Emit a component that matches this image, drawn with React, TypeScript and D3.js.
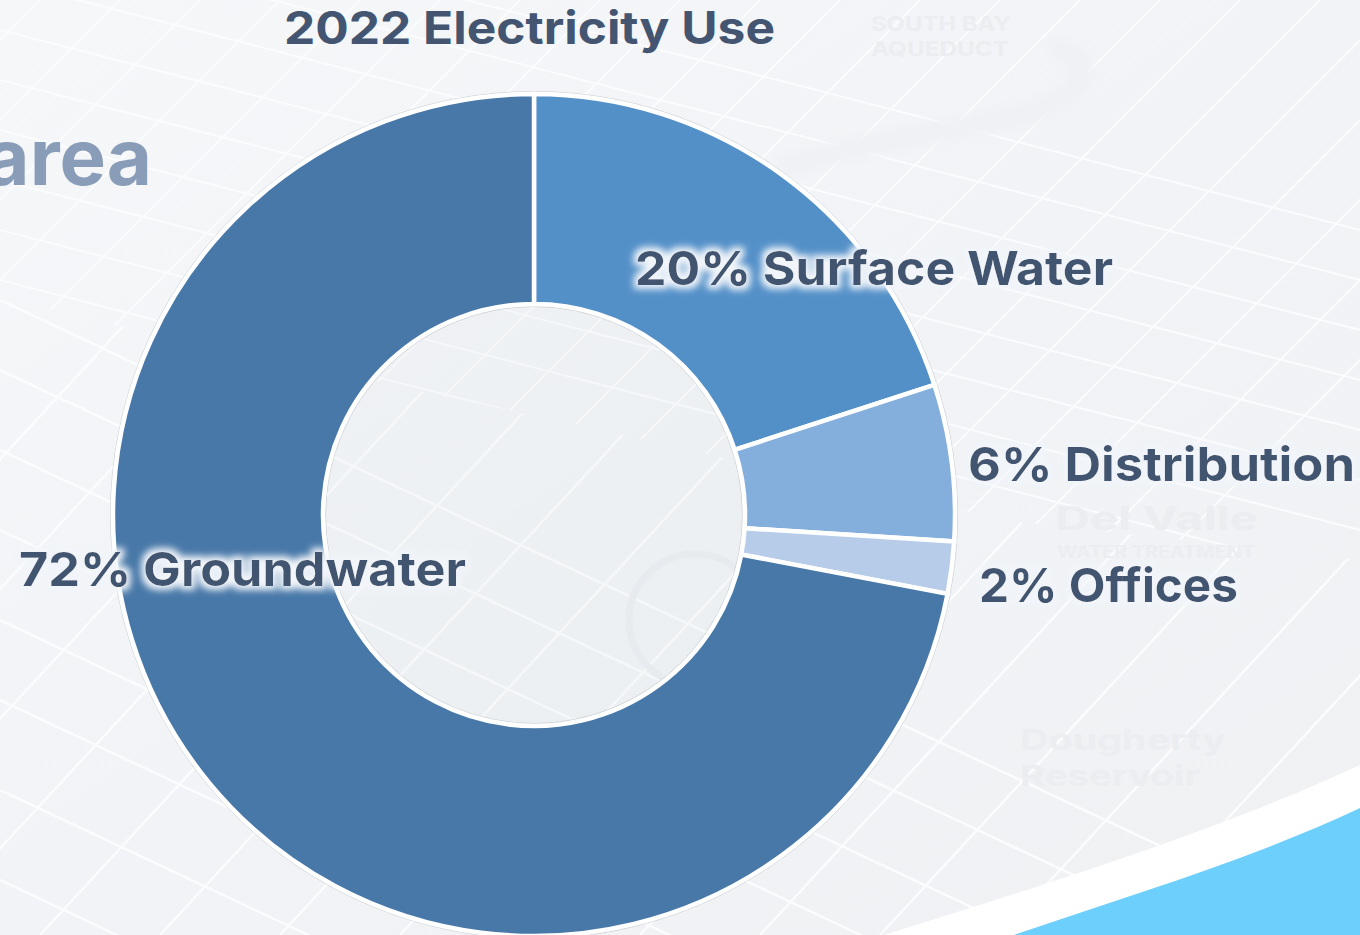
import React from "react";
import * as d3 from "d3";

const categories = ["Surface Water", "Distribution", "Offices", "Groundwater"];
const values = [20, 6, 2, 72];
const colors = ["#5490c8", "#84aedc", "#b6cce8", "#4878a8"];
const title = "2022 Electricity Use";
const labelPlaces = [
  { x: 635, y: 285, w: 478 },
  { x: 968, y: 481, w: 387 },
  { x: 979, y: 602, w: 259 },
  { x: 19, y: 586, w: 447 },
];

// faint background map: perspective street grid
const upperLong = [-120, -70, -20, 30, 80, 130, 180, 230, 280, 330, 380, 430, 480];
const upperCross = [-200, -120, -40, 40, 120, 200, 280, 360, 440, 520, 600, 680, 760, 840, 920, 1000, 1080, 1160, 1240, 1320, 1400, 1480, 1560, 1640, 1720];
const lowerLong = [300, 370, 450, 530, 620, 700, 790, 880];
const lowerCross = [300, 420, 540, 660, 780, 900, 1020, 1140, 1260, 1380, 1500, 1620, 1740, 1860];

const FONT = "Inter, 'Noto Sans', sans-serif";
const cx = 534, cy = 515, outerR = 421, innerR = 211;

const pie = d3.pie<number>().sort(null).value((d) => d);
const arc = d3.arc<d3.PieArcDatum<number>>().innerRadius(innerR).outerRadius(outerR);

export default function App() {
  const arcs = pie(values);
  return (
    <svg width={1360} height={935} style={{ position: "fixed", left: 0, top: 0, display: "block" }}>
      <defs>
        <linearGradient id="bg" x1="0" y1="0" x2="1" y2="1">
          <stop offset="0" stopColor="#f6f7f9" />
          <stop offset="0.5" stopColor="#f1f3f6" />
          <stop offset="1" stopColor="#eff1f3" />
        </linearGradient>
        <filter id="halo" x="-10%" y="-40%" width="120%" height="180%">
          <feMorphology in="SourceAlpha" operator="dilate" radius="4" result="d" />
          <feGaussianBlur in="d" stdDeviation="3.5" result="b" />
          <feFlood floodColor="#f1f5fa" floodOpacity="1" />
          <feComposite in2="b" operator="in" result="h" />
          <feMerge>
            <feMergeNode in="h" />
            <feMergeNode in="SourceGraphic" />
          </feMerge>
        </filter>
        <filter id="soft"><feGaussianBlur stdDeviation="0.7" /></filter>
        <filter id="softer"><feGaussianBlur stdDeviation="5" /></filter>
        <clipPath id="upperClip"><path d="M0,0H1360V560L1000,520L600,430L0,300Z" /></clipPath>
        <clipPath id="lowerClip"><path d="M0,300L600,430L1000,520L1360,560V935H0Z" /></clipPath>
      </defs>
      <rect width={1360} height={935} fill="url(#bg)" />

      <g stroke="#fbfcfd" strokeWidth={2} fill="none" clipPath="url(#upperClip)" filter="url(#soft)">
        {upperLong.map((y) => <line key={y} x1={0} y1={y} x2={1360} y2={y + 350} />)}
        {upperCross.map((x) => <line key={x} x1={x - 640} y1={640} x2={x} y2={0} />)}
      </g>
      <g stroke="#fbfcfd" strokeWidth={2.5} fill="none" clipPath="url(#lowerClip)" filter="url(#soft)">
        {lowerLong.map((y) => <line key={y} x1={0} y1={y} x2={1360} y2={y + 640} />)}
        {lowerCross.map((x) => <line key={x} x1={x - 740} y1={935} x2={x} y2={135} />)}
      </g>

      <g filter="url(#softer)">
        <path d="M780,170C900,125 1060,130 1080,80C1085,60 1070,50 1050,48" fill="none" stroke="#eff1f4" strokeWidth={22} />
      </g>
      <circle cx={695} cy={620} r={66} fill="none" stroke="#e9ecf0" strokeWidth={7} />
      <circle cx={534} cy={515} r={209} fill="#dfe5ea" opacity={0.18} />
      <g fill="#ebedf1" fontFamily={FONT} fontWeight={700}>
        <text x={871} y={31} fontSize={20} textLength={140} lengthAdjust="spacingAndGlyphs">SOUTH BAY</text>
        <text x={871} y={56} fontSize={20} textLength={138} lengthAdjust="spacingAndGlyphs">AQUEDUCT</text>
        <text x={1055} y={530} fontSize={32} textLength={203} lengthAdjust="spacingAndGlyphs">Del Valle</text>
        <text x={1057} y={558} fontSize={17} textLength={198} lengthAdjust="spacingAndGlyphs">WATER TREATMENT</text>
        <text x={1020} y={750} fontSize={29} textLength={206} lengthAdjust="spacingAndGlyphs">Dougherty</text>
        <text x={1020} y={786} fontSize={29} textLength={180} lengthAdjust="spacingAndGlyphs">Reservoir</text>
      </g>

      <path d="M884,935C1060,880 1220,830 1360,765V935Z" fill="#ffffff" />
      <path d="M1014,935C1130,895 1250,860 1360,808V935Z" fill="#6dcffb" />

      <text x={152} y={185} textAnchor="end" fontFamily={FONT} fontWeight={700} fontSize={78} fill="#8a9db8">area</text>

      <circle cx={cx} cy={cy} r={outerR + 2.5} fill="none" stroke="#c4c8cc" strokeWidth={0.7} />
      <circle cx={cx} cy={cy} r={innerR - 2.5} fill="none" stroke="#c4c8cc" strokeWidth={0.7} />
      <g transform={`translate(${cx},${cy})`}>
        {arcs.map((a, i) => (
          <path key={categories[i]} d={arc(a) ?? ""} fill={colors[i]} stroke="#ffffff" strokeWidth={4.5} />
        ))}
      </g>

      <text x={284} y={44} textLength={491} lengthAdjust="spacingAndGlyphs" fontFamily={FONT} fontWeight={700} fontSize={45} fill="#435570">{title}</text>
      {categories.map((c, i) => (
        <text
          key={c}
          x={labelPlaces[i].x}
          y={labelPlaces[i].y}
          textLength={labelPlaces[i].w}
          lengthAdjust="spacingAndGlyphs"
          fontFamily={FONT}
          fontWeight={700}
          fontSize={47}
          fill="#435570"
          filter="url(#halo)"
        >{`${values[i]}% ${c}`}</text>
      ))}
    </svg>
  );
}
